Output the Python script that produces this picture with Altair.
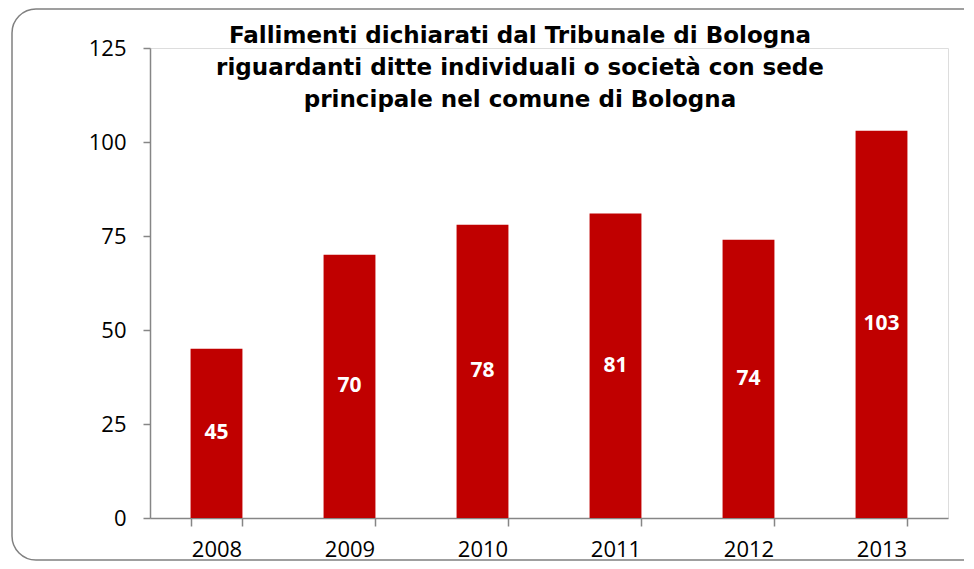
import altair as alt
import pandas as pd

years = ["2008", "2009", "2010", "2011", "2012", "2013"]
values = [45, 70, 78, 81, 74, 103]
y_ticks = [0, 25, 50, 75, 100, 125]
title_lines = [
    "Fallimenti dichiarati dal Tribunale di Bologna",
    "riguardanti ditte individuali  o società con sede",
    "principale nel comune di Bologna",
]

df = pd.DataFrame({"anno": years, "valore": values})
df["meta"] = df["valore"] / 2

x_enc = alt.X(
    "anno:N",
    sort=years,
    scale=alt.Scale(paddingInner=0.61, paddingOuter=0.305),
    axis=alt.Axis(
        title=None, labelAngle=0, tickBand="extent", tickSize=8,
        labelPadding=13, labelFont="Open Sans", labelFontSize=22,
        labelColor="#000000", domainColor="#868686", tickColor="#868686",
        domainWidth=1.5, tickWidth=1.5,
    ),
)
y_scale = alt.Scale(domain=[0, 125], nice=False)

bars = alt.Chart(df).mark_bar(color="#C00000").encode(
    x=x_enc,
    y=alt.Y(
        "valore:Q", scale=y_scale,
        axis=alt.Axis(
            title=None, values=y_ticks, grid=False, tickSize=7,
            labelPadding=17, labelFont="Open Sans", labelFontSize=22,
            labelColor="#000000", domainColor="#868686", tickColor="#868686",
            domainWidth=1.5, tickWidth=1.5,
        ),
    ),
)

labels = alt.Chart(df).mark_text(
    color="white", font="Open Sans", fontWeight="bold", fontSize=21,
    baseline="middle", align="center",
).encode(
    x=alt.X("anno:N", sort=years),
    y=alt.Y("meta:Q", scale=y_scale),
    text=alt.Text("valore:Q"),
)

one = pd.DataFrame({"k": [0]})
frame = alt.Chart(one).mark_rect(
    filled=False, stroke="#808080", strokeWidth=1.5, cornerRadius=24,
).encode(
    x=alt.value(-138), x2=alt.value(840), y=alt.value(-39), y2=alt.value(512),
)

title = alt.Chart(one).mark_text(
    font="DejaVu Sans", fontWeight="bold", fontSize=23,
    align="center", baseline="alphabetic", lineHeight=32, color="#000000",
).encode(
    x=alt.value(370), y=alt.value(-5), text=alt.value(title_lines),
)

chart = alt.layer(frame, bars, labels, title).properties(
    width=798, height=470,
    autosize=alt.AutoSizeParams(type="none"),
    padding={"left": 142, "top": 40, "right": 16, "bottom": 43},
).configure_view(stroke=None).configure(background="white")

chart.save("out.html", embed_options={"renderer": "svg", "actions": False})
